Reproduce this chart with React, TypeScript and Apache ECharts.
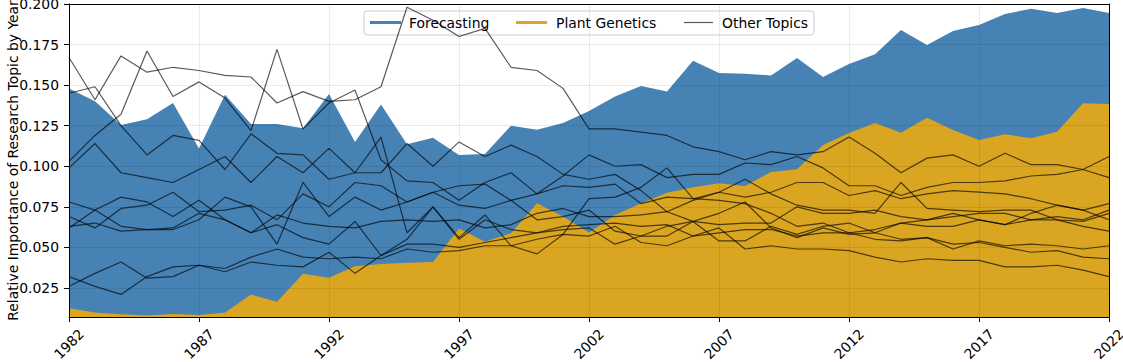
import React, { useEffect, useRef } from "react";
import * as echarts from "echarts";

const years = [
  "1982", "1983", "1984", "1985", "1986", "1987", "1988", "1989", "1990", "1991",
  "1992", "1993", "1994", "1995", "1996", "1997", "1998", "1999", "2000", "2001",
  "2002", "2003", "2004", "2005", "2006", "2007", "2008", "2009", "2010", "2011",
  "2012", "2013", "2014", "2015", "2016", "2017", "2018", "2019", "2020", "2021", "2022",
];

const yTicks = [0.025, 0.05, 0.075, 0.1, 0.125, 0.15, 0.175, 0.2];

const forecasting = [
  0.148, 0.140, 0.1255, 0.129, 0.139, 0.111, 0.144, 0.126, 0.126, 0.1235,
  0.1445, 0.115, 0.138, 0.1135, 0.1175, 0.107, 0.1075, 0.125, 0.1225, 0.1267,
  0.134, 0.143, 0.1495, 0.146, 0.165, 0.1575, 0.157, 0.156, 0.1667, 0.155,
  0.163, 0.169, 0.184, 0.1747, 0.1834, 0.187, 0.1938, 0.197, 0.1945, 0.1975, 0.1945,
];

const plantGenetics = [
  0.0125, 0.0098, 0.0088, 0.008, 0.009, 0.0084, 0.0098, 0.0209, 0.0165, 0.0338,
  0.0313, 0.0384, 0.0398, 0.0406, 0.041, 0.0616, 0.0535, 0.0587, 0.0772, 0.069,
  0.0591, 0.07, 0.0772, 0.0837, 0.087, 0.0895, 0.0879, 0.0965, 0.0981, 0.1131,
  0.1205, 0.1267, 0.1207, 0.1299, 0.1224, 0.1162, 0.1197, 0.1172, 0.1213, 0.1388, 0.1384,
];

const otherTopic1 = [
  0.167, 0.141, 0.168, 0.158, 0.161, 0.159, 0.156, 0.155, 0.139, 0.146,
  0.140, 0.141, 0.149, 0.198, 0.190, 0.180, 0.185, 0.161, 0.159, 0.148,
  0.123, 0.123, 0.121, 0.119, 0.112, 0.109, 0.104, 0.109, 0.107, 0.109,
  0.118, 0.108, 0.096, 0.105, 0.107, 0.100, 0.108, 0.101, 0.101, 0.098, 0.093,
];
const otherTopic2 = [
  0.103, 0.119, 0.132, 0.171, 0.143, 0.152, 0.142, 0.122, 0.172, 0.123,
  0.139, 0.147, 0.104, 0.091, 0.090, 0.079, 0.090, 0.096, 0.083, 0.094,
  0.107, 0.100, 0.101, 0.093, 0.095, 0.095, 0.102, 0.101, 0.106, 0.099,
  0.088, 0.088, 0.082, 0.087, 0.090, 0.090, 0.091, 0.094, 0.095, 0.098, 0.106,
];
const otherTopic3 = [
  0.099, 0.114, 0.096, 0.093, 0.090, 0.098, 0.106, 0.090, 0.106, 0.096,
  0.111, 0.096, 0.096, 0.114, 0.100, 0.115, 0.106, 0.113, 0.106, 0.095,
  0.092, 0.095, 0.085, 0.072, 0.066, 0.064, 0.065, 0.065, 0.075, 0.071,
  0.071, 0.073, 0.069, 0.067, 0.071, 0.067, 0.064, 0.071, 0.076, 0.073, 0.067,
];
const otherTopic4 = [
  0.145, 0.149, 0.125, 0.107, 0.119, 0.116, 0.098, 0.120, 0.108, 0.107,
  0.092, 0.096, 0.118, 0.059, 0.075, 0.056, 0.070, 0.051, 0.046, 0.058,
  0.080, 0.081, 0.087, 0.099, 0.080, 0.084, 0.092, 0.083, 0.076, 0.073,
  0.073, 0.071, 0.090, 0.074, 0.073, 0.072, 0.073, 0.073, 0.067, 0.066, 0.071,
];
const otherTopic5 = [
  0.069, 0.062, 0.074, 0.076, 0.084, 0.072, 0.073, 0.076, 0.067, 0.083,
  0.075, 0.090, 0.088, 0.078, 0.084, 0.088, 0.089, 0.079, 0.083, 0.088,
  0.087, 0.089, 0.077, 0.081, 0.080, 0.079, 0.077, 0.071, 0.063, 0.065,
  0.059, 0.061, 0.065, 0.067, 0.069, 0.071, 0.071, 0.067, 0.069, 0.067, 0.073,
];
const otherTopic6 = [
  0.063, 0.065, 0.060, 0.061, 0.061, 0.067, 0.081, 0.075, 0.052, 0.090,
  0.069, 0.081, 0.073, 0.078, 0.084, 0.076, 0.074, 0.079, 0.067, 0.069,
  0.073, 0.060, 0.057, 0.063, 0.066, 0.071, 0.078, 0.062, 0.056, 0.062,
  0.058, 0.059, 0.055, 0.056, 0.052, 0.053, 0.050, 0.047, 0.048, 0.044, 0.043,
];
const otherTopic7 = [
  0.062, 0.073, 0.063, 0.061, 0.062, 0.071, 0.067, 0.059, 0.070, 0.065,
  0.063, 0.062, 0.066, 0.067, 0.066, 0.067, 0.062, 0.064, 0.071, 0.074,
  0.069, 0.069, 0.070, 0.072, 0.079, 0.084, 0.081, 0.084, 0.090, 0.090,
  0.082, 0.085, 0.080, 0.083, 0.085, 0.084, 0.083, 0.080, 0.076, 0.073, 0.077,
];
const otherTopic8 = [
  0.078, 0.073, 0.081, 0.078, 0.069, 0.079, 0.067, 0.059, 0.064, 0.056,
  0.052, 0.066, 0.045, 0.055, 0.075, 0.055, 0.067, 0.061, 0.059, 0.063,
  0.064, 0.065, 0.063, 0.064, 0.057, 0.059, 0.061, 0.061, 0.057, 0.059,
  0.059, 0.055, 0.054, 0.056, 0.049, 0.054, 0.051, 0.052, 0.051, 0.049, 0.051,
];
const otherTopic9 = [
  0.026, 0.034, 0.041, 0.031, 0.032, 0.039, 0.035, 0.041, 0.039, 0.038,
  0.047, 0.034, 0.045, 0.052, 0.052, 0.050, 0.053, 0.056, 0.059, 0.061,
  0.062, 0.052, 0.057, 0.057, 0.066, 0.054, 0.054, 0.063, 0.058, 0.063,
  0.065, 0.059, 0.065, 0.063, 0.063, 0.067, 0.064, 0.067, 0.067, 0.063, 0.060,
];
const otherTopic10 = [
  0.032, 0.026, 0.021, 0.032, 0.038, 0.039, 0.037, 0.044, 0.049, 0.044,
  0.043, 0.044, 0.043, 0.049, 0.047, 0.048, 0.051, 0.051, 0.055, 0.058,
  0.057, 0.063, 0.053, 0.051, 0.057, 0.062, 0.049, 0.051, 0.049, 0.049,
  0.048, 0.044, 0.041, 0.043, 0.042, 0.042, 0.038, 0.038, 0.039, 0.036, 0.032,
];

const otherTopics = [
  otherTopic1, otherTopic2, otherTopic3, otherTopic4, otherTopic5,
  otherTopic6, otherTopic7, otherTopic8, otherTopic9, otherTopic10,
];

const legendLabels = ["Forecasting", "Plant Genetics", "Other Topics"];
const yAxisTitle = "Relative Importance of Research Topic by Year";

const BLUE = "#4682B4";
const GOLD = "#DAA520";
const LINE = "rgba(0,0,0,0.65)";
const FONT = "DejaVu Sans";
const FS = 13.9;

export default function App() {
  const ref = useRef<HTMLDivElement>(null);

  useEffect(() => {
    if (!ref.current) return;
    const chart = echarts.init(ref.current, undefined, { renderer: "svg" });
    const yMin = 0.0071;
    const yMax = 0.2;

    const option: any = {
      animation: false,
      textStyle: { fontFamily: FONT },
      grid: {
        left: 69,
        right: 14,
        top: 4,
        bottom: 45,
        show: false,
        containLabel: false,
        outerBoundsMode: "none",
      },
      xAxis: [
        {
          type: "category",
          data: years,
          boundaryGap: false,
          z: 5,
          axisLine: { show: true, lineStyle: { color: "#000", width: 1 } },
          axisTick: { show: true, interval: 4, length: 5, lineStyle: { color: "#000", width: 1 } },
          axisLabel: {
            interval: 4,
            rotate: 45,
            align: "center",
            verticalAlign: "middle",
            margin: 27,
            color: "#000",
            fontSize: FS,
            fontFamily: FONT,
            hideOverlap: false,
          },
          splitLine: {
            show: true,
            interval: 4,
            lineStyle: { type: "dotted", color: "rgba(0,0,0,0.2)", width: 0.8 },
          },
        },
        {
          type: "category",
          data: years,
          boundaryGap: false,
          position: "top",
          z: 5,
          axisLine: { show: true, lineStyle: { color: "#000", width: 1 } },
          axisTick: { show: false },
          axisLabel: { show: false },
          splitLine: { show: false },
        },
      ],
      yAxis: [
        {
          type: "value",
          min: yMin,
          max: yMax,
          z: 5,
          name: yAxisTitle,
          nameLocation: "middle",
          nameGap: 49,
          nameMoveOverlap: false,
          nameTextStyle: { fontSize: FS, color: "#000", fontFamily: FONT },
          axisLine: { show: true, lineStyle: { color: "#000", width: 1 } },
          axisTick: { show: true, length: 5, customValues: yTicks, lineStyle: { color: "#000", width: 1 } },
          axisLabel: {
            customValues: yTicks,
            formatter: (v: number) => v.toFixed(3),
            margin: 10,
            color: "#000",
            fontSize: FS,
            fontFamily: FONT,
          },
          splitLine: {
            show: true,
            lineStyle: { type: "dotted", color: "rgba(0,0,0,0.2)", width: 0.8 },
          },
        },
        {
          type: "value",
          min: yMin,
          max: yMax,
          position: "right",
          z: 5,
          axisLine: { show: true, lineStyle: { color: "#000", width: 1 } },
          axisTick: { show: false },
          axisLabel: { show: false },
          splitLine: { show: false },
        },
      ],
      series: [
        {
          type: "line",
          name: legendLabels[0],
          data: forecasting,
          symbol: "none",
          silent: true,
          lineStyle: { width: 0 },
          areaStyle: { color: BLUE, opacity: 1, origin: "start" },
          z: 2,
        },
        {
          type: "line",
          name: legendLabels[1],
          data: plantGenetics,
          symbol: "none",
          silent: true,
          lineStyle: { width: 0 },
          areaStyle: { color: GOLD, opacity: 1, origin: "start" },
          z: 2,
        },
        ...otherTopics.map((arr, i) => ({
          type: "line",
          name: i === 0 ? legendLabels[2] : legendLabels[2] + " " + (i + 1),
          data: arr,
          symbol: "none",
          silent: true,
          lineStyle: { color: LINE, width: 1.2 },
          z: 3,
        })),
      ],
      graphic: [
        {
          type: "group",
          z: 100,
          children: [
            {
              type: "rect",
              shape: { x: 364, y: 11, width: 450, height: 24, r: 3 },
              style: { fill: "rgba(255,255,255,0.8)", stroke: "#cccccc", lineWidth: 1 },
            },
            {
              type: "line",
              shape: { x1: 370, y1: 22.5, x2: 401, y2: 22.5 },
              style: { stroke: BLUE, lineWidth: 3 },
            },
            {
              type: "text",
              x: 409,
              y: 22.5,
              style: { text: legendLabels[0], fill: "#000", font: `${FS}px "${FONT}"`, verticalAlign: "middle" },
            },
            {
              type: "line",
              shape: { x1: 516, y1: 22.5, x2: 547, y2: 22.5 },
              style: { stroke: GOLD, lineWidth: 3 },
            },
            {
              type: "text",
              x: 556,
              y: 22.5,
              style: { text: legendLabels[1], fill: "#000", font: `${FS}px "${FONT}"`, verticalAlign: "middle" },
            },
            {
              type: "line",
              shape: { x1: 684, y1: 22.5, x2: 713, y2: 22.5 },
              style: { stroke: LINE, lineWidth: 1.2 },
            },
            {
              type: "text",
              x: 722,
              y: 22.5,
              style: { text: legendLabels[2], fill: "#000", font: `${FS}px "${FONT}"`, verticalAlign: "middle" },
            },
          ],
        },
      ],
    };

    chart.setOption(option);
    return () => chart.dispose();
  }, []);

  return (
    <div
      ref={ref}
      style={{ position: "absolute", left: 0, top: 0, width: 1123, height: 362 }}
    />
  );
}
